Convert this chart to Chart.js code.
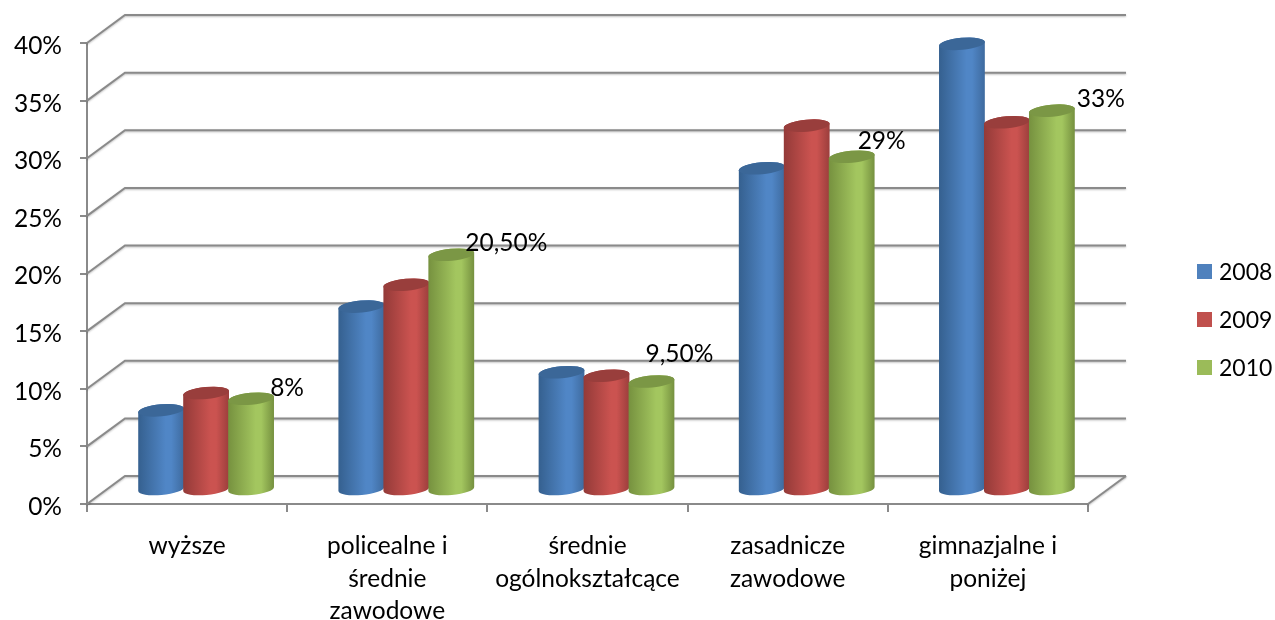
<!DOCTYPE html>
<html>
<head>
<meta charset="utf-8">
<title>Wykształcenie</title>
<script src="https://cdn.jsdelivr.net/npm/chart.js@4/dist/chart.umd.min.js"></script>
<style>
body { margin:0; background:#fff; }
canvas { display:block; }
</style>
</head>
<body>
<canvas id="chart" width="1275" height="620"></canvas>
<script>
const categories = [
    ["wyższe"],
    ["policealne i", "średnie", "zawodowe"],
    ["średnie", "ogólnokształcące"],
    ["zasadnicze", "zawodowe"],
    ["gimnazjalne i", "poniżej"]
];
const seriesNames = ["2008", "2009", "2010"];
const values2008 = [7, 16, 10.3, 28, 38.8];
const values2009 = [8.5, 17.9, 10, 31.7, 32];
const values2010 = [8, 20.5, 9.5, 29, 33];
const labels2010 = ["8%", "20,50%", "9,50%", "29%", "33%"];
const tickLabels = ["0%", "5%", "10%", "15%", "20%", "25%", "30%", "35%", "40%"];

const FONT = "Lato, 'Open Sans', sans-serif";
const AXIS = "#8a8a8a";
const DEPTH_X = 38, DEPTH_Y = 28;
const BAR_X = 19, BAR_Y = 13;

// left edge, middle, right edge, lid
const shades = [
    ["#35608f", "#5086c6", "#3e6a9e", "#3b6798"],
    ["#933a38", "#cb5350", "#9b3e3c", "#993e3c"],
    ["#76913f", "#a3c65f", "#75903f", "#7b9745"]
];
// hand placed in the original, so every label has its own nudge from the bar top
const labelNudge = [[36, -11], [55, -12], [28, -27], [30, -16], [49, -12]];

const wall3d = {
    id: "wall3d",
    beforeDatasetsDraw(chart) {
        const ctx = chart.ctx, a = chart.chartArea, y = chart.scales.y;
        ctx.save();
        ctx.strokeStyle = AXIS;
        ctx.lineWidth = 2;
        ctx.shadowColor = "rgba(0,0,0,0.25)";
        ctx.shadowBlur = 2;
        ctx.shadowOffsetY = 1;
        y.ticks.forEach(t => {
            const py = y.getPixelForValue(t.value);
            ctx.beginPath();
            ctx.moveTo(a.left, py);
            ctx.lineTo(a.left + DEPTH_X, py - DEPTH_Y);
            ctx.lineTo(a.right + DEPTH_X, py - DEPTH_Y);
            ctx.stroke();
        });
        ctx.beginPath();
        ctx.moveTo(a.right, a.bottom);
        ctx.lineTo(a.right + DEPTH_X, a.bottom - DEPTH_Y);
        ctx.stroke();
        ctx.restore();

        // cylinders, left to right
        chart.data.labels.forEach((_, i) => {
            chart.data.datasets.forEach((ds, d) => {
                drawCylinder(ctx, chart.getDatasetMeta(d).data[i], shades[d]);
            });
        });
    },
    beforeDatasetDraw() {
        return false;
    },
    afterDatasetsDraw(chart) {
        const ctx = chart.ctx, meta = chart.getDatasetMeta(2);
        ctx.save();
        ctx.fillStyle = "#000";
        ctx.font = "24.5px " + FONT;
        ctx.textAlign = "center";
        ctx.textBaseline = "middle";
        labels2010.forEach((txt, i) => {
            const bar = meta.data[i];
            ctx.fillText(txt, bar.x + BAR_X + labelNudge[i][0], bar.y - BAR_Y + labelNudge[i][1]);
        });

        // legend: the built in one keeps too wide a gap between swatch and text here
        ctx.font = "23px " + FONT;
        ctx.textAlign = "left";
        chart.data.datasets.forEach((ds, d) => {
            const top = 264 + d * 48;
            ctx.fillStyle = ds.backgroundColor;
            ctx.fillRect(1197, top, 15, 15);
            ctx.fillStyle = "#000";
            ctx.fillText(ds.label, 1219, top + 9);
        });
        ctx.restore();
    }
};

function drawCylinder(ctx, bar, c) {
    const rx = bar.width / 2 + 0.5, ry = 6, rot = -0.09;
    const cx = bar.x + BAR_X, top = bar.y - BAR_Y, bottom = bar.base - BAR_Y - 1;
    const grad = ctx.createLinearGradient(cx - rx, 0, cx + rx, 0);
    grad.addColorStop(0, c[0]);
    grad.addColorStop(0.6, c[1]);
    grad.addColorStop(0.72, c[1]);
    grad.addColorStop(1, c[2]);
    ctx.save();
    ctx.fillStyle = grad;
    ctx.beginPath();
    ctx.ellipse(cx, bottom, rx, ry, rot, Math.PI, 0, true);
    ctx.ellipse(cx, top, rx, ry, rot, 0, Math.PI, true);
    ctx.closePath();
    ctx.fill();
    ctx.fillStyle = c[3];
    ctx.beginPath();
    ctx.ellipse(cx, top, rx, ry, rot, 0, Math.PI * 2);
    ctx.fill();
    ctx.restore();
}

new Chart(document.getElementById("chart"), {
    type: "bar",
    data: {
        labels: categories,
        datasets: [
            { label: seriesNames[0], data: values2008, backgroundColor: "#4f81bd" },
            { label: seriesNames[1], data: values2009, backgroundColor: "#c0504d" },
            { label: seriesNames[2], data: values2010, backgroundColor: "#9bbb59" }
        ]
    },
    plugins: [wall3d],
    options: {
        responsive: false,
        animation: false,
        layout: { padding: { top: 43, right: 187, left: 0, bottom: 0 } },
        datasets: { bar: { barPercentage: 1, categoryPercentage: 0.674 } },
        scales: {
            x: {
                afterFit(s) { s.height = 116; },
                grid: { drawOnChartArea: false, color: AXIS, lineWidth: 2, tickLength: 8 },
                border: { color: AXIS, width: 2 },
                ticks: { color: "#000", font: { family: FONT, size: 24.5, lineHeight: 1.33 }, padding: 18, maxRotation: 0, autoSkip: false }
            },
            y: {
                min: 0,
                max: 40,
                afterFit(s) { s.width = 87; },
                grid: { drawOnChartArea: false, color: AXIS, lineWidth: 2, tickLength: 7 },
                border: { color: AXIS, width: 2 },
                ticks: {
                    stepSize: 5,
                    color: "#000",
                    font: { family: FONT, size: 24.5 },
                    padding: 18,
                    labelOffset: 3,
                    callback: (v) => tickLabels[v / 5]
                }
            }
        },
        plugins: {
            tooltip: { enabled: false },
            legend: { display: false }
        }
    }
});
</script>
</body>
</html>
